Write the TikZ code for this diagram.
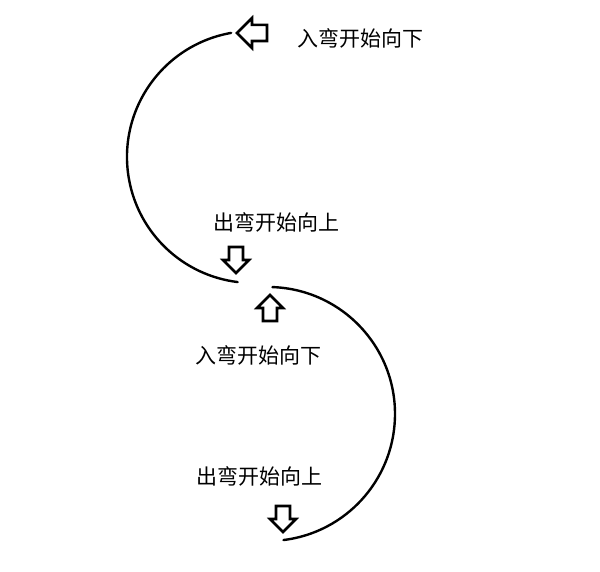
\documentclass[tikz,border=0pt]{standalone}
\usepackage{fontspec}
\newfontfamily\cjk{Noto Sans CJK SC}
\usetikzlibrary{calc}
\tikzset{
	curve/.style={line width=2.4pt, line cap=round},
	label/.style={font=\cjk\fontsize{21}{24}\selectfont, inner sep=0pt},
	blockarrow/.pic={
			\draw[line width=2.6pt, line join=miter, fill=white]
			(-13,-7) -- (0,-7) -- (0,-13) -- (13,0) -- (0,13) -- (0,7) -- (-13,7) -- cycle;
		}
}

\begin{document}
\begin{tikzpicture}[x=1pt,y=1pt]
	\useasboundingbox (0,0) rectangle (600,571);

	% centres of the two bends
	\coordinate (c1) at (253,414);
	\coordinate (c2) at (268,157);

	\draw[curve] (c1) ++(100:126) arc[start angle=100, end angle=263, radius=126];
	\draw[curve] (c2) ++(88:127) arc[start angle=88, end angle=-83, radius=127];

	\pic[rotate=180, scale=1.15] (inA) at (252,538) {blockarrow};
	\pic[rotate=-90] (outA) at (236,311) {blockarrow};
	\pic[rotate=90] (inB) at (270,263) {blockarrow};
	\pic[rotate=-90] (outB) at (283,52) {blockarrow};

	\node[label] (in1) at (360,533) {入弯开始向下};
	\node[label] (out1) at (276,349) {出弯开始向上};
	\node[label] (in2) at (258,216) {入弯开始向下};
	\node[label] (out2) at (259,95) {出弯开始向上};
\end{tikzpicture}
\end{document}
